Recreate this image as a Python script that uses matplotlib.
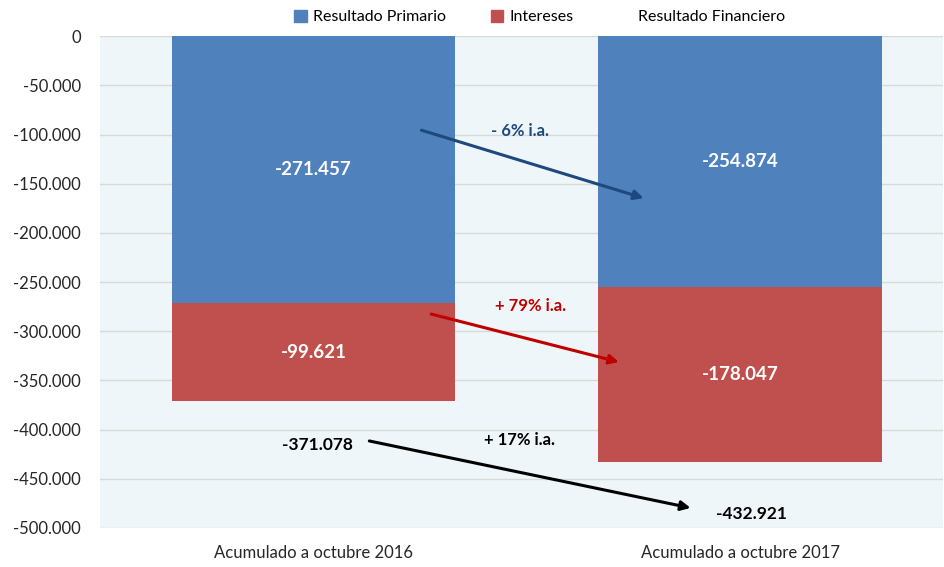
import matplotlib.pyplot as plt
from matplotlib.patches import Patch
from matplotlib.ticker import FuncFormatter

plt.rcParams['font.family'] = ['Lato', 'DejaVu Sans']

# datos
categorias = ['Acumulado a octubre 2016', 'Acumulado a octubre 2017']
primario = [-271457, -254874]
intereses = [-99621, -178047]
financiero = [-371078, -432921]
variaciones = ['- 6% i.a.', '+ 79% i.a.', '+ 17% i.a.']

azul = '#4F81BD'
rojo = '#C0504D'

fig = plt.figure(figsize=(9.45, 5.67), dpi=100)
ax = fig.add_axes([0.106, 0.069, 0.892, 0.867])
ax.set_facecolor('#EEF6F9')

x = [0, 1]
ancho = 0.665
ax.bar(x, primario, width=ancho, color=azul, label='Resultado Primario', zorder=3)
ax.bar(x, intereses, width=ancho, bottom=primario, color=rojo, label='Intereses', zorder=3)
# serie invisible (total) para la leyenda
ax.plot(x, financiero, alpha=0)

def miles(v, pos):
    return f'{int(v):,}'.replace(',', '.')

ax.set_ylim(-500000, 0)
ax.set_xlim(-0.5, 1.476)
ax.set_yticks(range(-500000, 1, 50000))
ax.yaxis.set_major_formatter(FuncFormatter(miles))
ax.set_xticks(x)
ax.set_xticklabels(categorias)
ax.tick_params(length=0, labelsize=12, colors='#262626')
ax.tick_params(axis='x', pad=12)
ax.tick_params(axis='y', pad=14)
ax.grid(axis='y', color='#D9D9D9', linewidth=1, zorder=0)
for s in ax.spines.values():
    s.set_visible(False)

# etiquetas dentro de las barras
for i in x:
    ax.text(i, primario[i] / 2, miles(primario[i], None), ha='center', va='center',
            color='white', fontsize=13.5, fontweight='bold', zorder=4)
    ax.text(i, primario[i] + intereses[i] / 2, miles(intereses[i], None), ha='center',
            va='center', color='white', fontsize=13.5, fontweight='bold', zorder=4)

# totales
ax.text(0.01, -416000, miles(financiero[0], None), ha='center', va='center',
        fontsize=12.5, fontweight='bold', color='black', zorder=4)
ax.text(1.027, -486000, miles(financiero[1], None), ha='center', va='center',
        fontsize=12.5, fontweight='bold', color='black', zorder=4)

# flechas de variación
flechas = [
    ((0.253, -95500), (0.774, -164600), '#1F497D', (0.484, -96500)),
    ((0.276, -282500), (0.716, -331300), '#C00000', (0.508, -274400)),
    ((0.131, -411600), (0.884, -479700), 'black', (0.482, -410600)),
]
for (ini, fin, col, pos_txt), txt in zip(flechas, variaciones):
    ax.annotate('', xy=fin, xytext=ini,
                arrowprops=dict(arrowstyle='-|>', color=col, lw=2.2,
                                mutation_scale=14, shrinkA=0, shrinkB=0), zorder=5)
    ax.text(pos_txt[0], pos_txt[1], txt, ha='center', va='center', fontsize=12,
            fontweight='bold', color=col, zorder=5)

handles = [Patch(color=azul), Patch(color=rojo), Patch(color='none')]
labels = ['Resultado Primario', 'Intereses', 'Resultado Financiero']
ax.legend(handles, labels, loc='lower center', bbox_to_anchor=(0.521, 0.995), ncol=3,
          frameon=False, fontsize=11.5, handlelength=0.8, handleheight=0.8,
          handletextpad=0.4, columnspacing=2.8)

fig.savefig('out.png', dpi=100)
